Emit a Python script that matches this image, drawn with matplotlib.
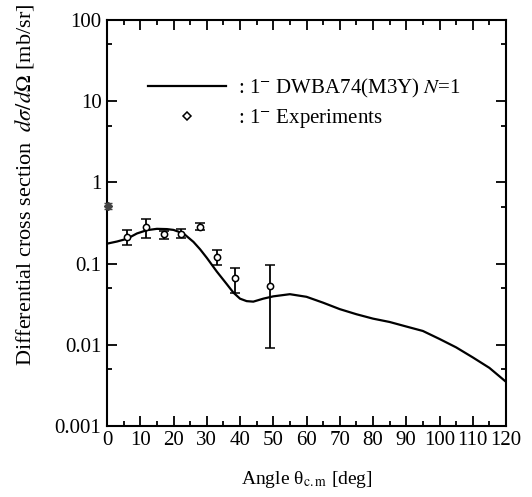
import matplotlib
matplotlib.use("Agg")
import matplotlib.pyplot as plt
from matplotlib.lines import Line2D
from matplotlib.ticker import FixedLocator, NullFormatter, FixedFormatter

plt.rcParams['font.family'] = ['Liberation Serif', 'DejaVu Serif']
plt.rcParams['mathtext.fontset'] = 'stix'

# Theory curve (DWBA74, M3Y, N=1)
curve_angle = [0, 3, 6, 9, 12, 15, 18, 20, 23, 26, 28, 30, 33, 36, 38, 40, 42, 44, 47,
               50, 55, 60, 65, 70, 75, 80, 85, 90, 95, 100, 105, 110, 115, 120]
curve_xs = [0.176, 0.187, 0.202, 0.235, 0.258, 0.268, 0.266, 0.260, 0.235, 0.185, 0.150,
            0.118, 0.080, 0.056, 0.044, 0.037, 0.0345, 0.034, 0.037,
            0.0395, 0.042, 0.039, 0.033, 0.0275, 0.0238, 0.021, 0.0191, 0.0168, 0.0148,
            0.0118, 0.0093, 0.0070, 0.0052, 0.0035]

# Experimental points
exp_angle = [6.1, 11.6, 17.1, 22.4, 27.9, 33.1, 38.4, 49.0]
exp_xs = [0.214, 0.281, 0.233, 0.233, 0.286, 0.121, 0.067, 0.053]
exp_hi = [0.258, 0.356, 0.251, 0.263, 0.312, 0.145, 0.088, 0.0968]
exp_lo = [0.169, 0.206, 0.202, 0.208, 0.258, 0.095, 0.0438, 0.00925]

# first (filled) point at the axis
first_angle = [0.4]
first_xs = [0.51]
first_hi = [0.55]
first_lo = [0.47]

x_ticks = [0, 10, 20, 30, 40, 50, 60, 70, 80, 90, 100, 110, 120]
y_ticks = [0.001, 0.01, 0.1, 1, 10, 100]
y_ticklabels = ['0.001', '0.01', '0.1', '1', '10', '100']

fig = plt.figure(figsize=(5.32, 4.97), dpi=100)
ax = fig.add_axes([107/532, 1-426/497, 399/532, 406/497])

ax.plot(curve_angle, curve_xs, color='black', lw=1.6)

yerr = [[v - l for v, l in zip(exp_xs, exp_lo)], [h - v for v, h in zip(exp_xs, exp_hi)]]
ax.errorbar(exp_angle, exp_xs, yerr=yerr, fmt='o', ms=4.5, mfc='white', mec='black',
            mew=1.1, ecolor='black', elinewidth=1.3, capsize=3.5, capthick=1.3)
yerr0 = [[v - l for v, l in zip(first_xs, first_lo)], [h - v for v, h in zip(first_xs, first_hi)]]
ax.errorbar(first_angle, first_xs, yerr=yerr0, fmt='D', ms=4, mfc='#444444', mec='#444444',
            ecolor='#444444', elinewidth=1.2, capsize=3, clip_on=False, zorder=5)

ax.set_yscale('log')
ax.set_xlim(0, 120)
ax.set_ylim(0.001, 100)

ax.xaxis.set_major_locator(FixedLocator(x_ticks))
ax.xaxis.set_minor_locator(FixedLocator([5 + 10 * i for i in range(12)]))
ax.yaxis.set_major_locator(FixedLocator(y_ticks))
ax.yaxis.set_major_formatter(FixedFormatter(y_ticklabels))
ax.yaxis.set_minor_locator(FixedLocator([0.005, 0.05, 0.5, 5, 50]))
ax.yaxis.set_minor_formatter(NullFormatter())

ax.tick_params(which='both', direction='in', top=True, right=True, width=1.3, labelsize=15)
ax.tick_params(which='major', length=7)
ax.tick_params(which='minor', length=3.5)
ax.tick_params(axis='y', which='major', pad=4)
ax.tick_params(axis='x', which='major', pad=3.5)
for s in ax.spines.values():
    s.set_linewidth(1.5)

ax.set_xlabel(r'Angle θ$_{\mathrm{c.m}}$ [deg]', fontsize=14, labelpad=14)
fig.text(25/532, 1-185/497, r'Differential cross section  $d\sigma/d\Omega$ [mb/sr]',
         rotation=90, ha='center', va='center', fontsize=16)

h1 = Line2D([], [], color='black', lw=1.6)
h2 = Line2D([], [], ls='none', marker='D', ms=4, mfc='white', mec='black', mew=1.1)
ax.legend([h1, h2], [r': 1$^{-}$ DWBA74(M3Y) $N$=1', r': 1$^{-}$ Experiments'],
          loc='upper left', bbox_to_anchor=(0.083, 0.88), frameon=False,
          fontsize=15, handlelength=3.7, handletextpad=0.6, labelspacing=0.35,
          borderaxespad=0)

fig.savefig('out.png', dpi=100)
